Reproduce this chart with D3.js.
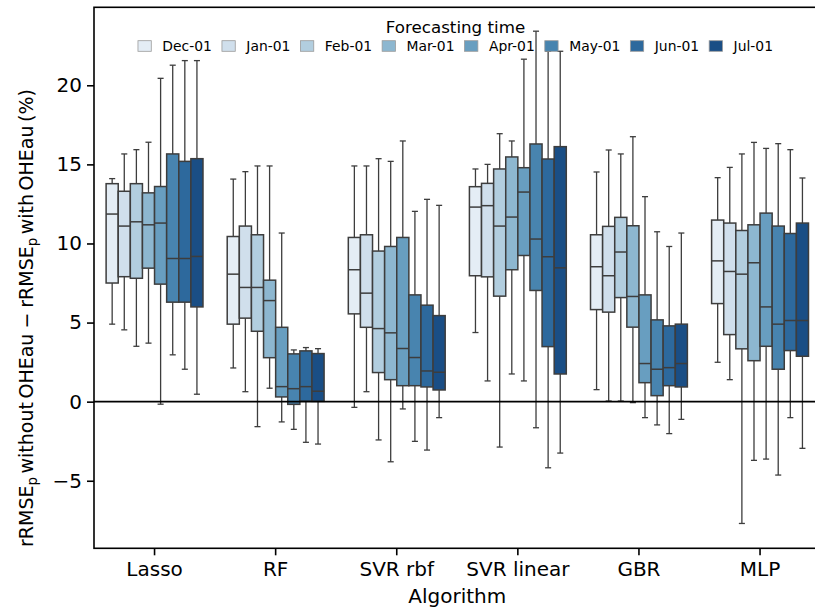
<!DOCTYPE html>
<html>
  <head>
    <meta charset="utf-8">
    <script src="https://d3js.org/d3.v7.min.js"></script>
    <style>
      body { margin: 0; background: #fff; }
      text { font-family: "DejaVu Sans", sans-serif; }
    </style>
  </head>
  <body>
    <script>
      // categories and forecasting times
      let algorithms = ["Lasso", "RF", "SVR rbf", "SVR linear", "GBR", "MLP"];
      let times = ["Dec-01", "Jan-01", "Feb-01", "Mar-01", "Apr-01", "May-01", "Jun-01", "Jul-01"];
      let yTicks = [-5, 0, 5, 10, 15, 20];

      // box statistics, one row per algorithm, one value per forecasting time
      let whiskerLow = [
        [4.9, 4.54, 3.5, 3.7, -0.16, 2.96, 2.05, 0.47],
        [2.13, 0.63, -1.58, 0.85, -1.28, -1.75, -2.57, -2.68],
        [-0.36, 0.63, -2.42, -3.8, -0.46, -2.51, -3.06, -1.01],
        [4.37, 1.31, -2.87, 1.75, 1.31, -1.65, -4.18, -3.25],
        [0.76, 0.04, 0.04, -0.06, -1.01, -1.47, -2.02, -1.12],
        [2.49, 1.39, -7.7, -3.71, -3.63, -4.64, -1.01, -2.95]
      ];
      let q1 = [
        [7.5, 7.9, 7.8, 8.44, 7.43, 6.29, 6.29, 5.99],
        [4.9, 5.28, 4.45, 2.78, 0.3, -0.17, 0.03, 0.02],
        [5.55, 4.7, 1.84, 1.39, 1.01, 1.01, 0.93, 0.74],
        [7.96, 7.89, 6.67, 8.34, 9.24, 7.03, 3.48, 1.75],
        [5.82, 5.66, 6.58, 4.71, 1.2, 0.38, 1.01, 0.93],
        [6.2, 4.24, 3.34, 2.59, 3.5, 2.05, 3.23, 2.87]
      ];
      let median = [
        [11.86, 11.1, 11.37, 11.18, 11.29, 9.05, 9.05, 9.18],
        [8.06, 7.22, 7.22, 6.39, 0.95, 0.82, 0.95, 0.66],
        [8.34, 6.86, 4.62, 4.35, 3.36, 2.79, 1.94, 1.86],
        [12.3, 12.39, 11.1, 11.67, 13.25, 10.28, 9.16, 8.46],
        [8.53, 7.96, 9.46, 6.65, 2.41, 2.05, 2.15, 2.41],
        [8.9, 8.23, 8.06, 8.78, 5.99, 4.9, 5.13, 5.13]
      ];
      let q3 = [
        [13.78, 13.3, 13.78, 13.2, 13.6, 15.66, 15.19, 15.36],
        [10.44, 11.1, 10.55, 7.68, 4.7, 3.02, 3.21, 3.04],
        [10.38, 10.55, 9.52, 9.81, 10.38, 6.75, 6.1, 5.44],
        [13.59, 13.8, 14.71, 15.47, 14.79, 16.29, 15.34, 16.12],
        [10.55, 11.08, 11.65, 11.12, 6.75, 5.17, 4.79, 4.9],
        [11.48, 11.29, 10.82, 11.18, 11.92, 11.1, 10.63, 11.29]
      ];
      let whiskerHigh = [
        [14.1, 15.66, 15.93, 16.4, 20.44, 21.27, 21.56, 21.56],
        [14.07, 14.54, 14.9, 14.9, 10.66, 3.27, 3.42, 3.35],
        [14.9, 14.9, 15.36, 15.19, 16.48, 12.03, 12.79, 12.41],
        [14.71, 15.0, 16.94, 16.48, 21.65, 23.42, 22.15, 22.15],
        [14.52, 15.91, 15.66, 16.75, 12.96, 10.74, 9.81, 10.66],
        [14.16, 14.81, 15.66, 16.39, 16.01, 16.31, 15.93, 14.14]
      ];

      let width = 815, height = 610;
      let plotLeft = 94, plotRight = 820.6, plotTop = 7.3, plotBottom = 548.3;

      // matplotlib "Blues" samples, desaturated like seaborn does for boxes
      let blues = ["#e1edf8", "#cbdff1", "#abd0e6", "#82badb", "#59a2cf", "#3787c0", "#1b6aaf", "#084d97"];
      let colors = blues.map(function(c) {
        let h = d3.hsl(c); h.s = h.s * 0.75; return h.formatHex();
      });
      let edge = "#3d3d3d";

      let svg = d3.select("body").append("svg")
        .attr("width", width).attr("height", height);

      let x = d3.scaleBand().domain(algorithms).range([plotLeft, plotRight]).padding(0);
      let bw = x.bandwidth();
      let xHue = d3.scaleBand().domain(times).range([-0.4 * bw, 0.4 * bw]).padding(0);
      let y = d3.scaleLinear().domain([-9.27, 24.93]).range([plotBottom, plotTop]);

      // boxes
      let boxW = xHue.bandwidth();
      algorithms.forEach(function(alg, a) {
        let g = svg.append("g").attr("transform", "translate(" + (x(alg) + bw / 2) + ",0)");
        times.forEach(function(t, i) {
          let cx = xHue(t) + boxW / 2;
          // whiskers
          g.append("line").attr("x1", cx).attr("x2", cx)
            .attr("y1", y(q3[a][i])).attr("y2", y(whiskerHigh[a][i]))
            .attr("stroke", edge).attr("stroke-width", 1.3);
          g.append("line").attr("x1", cx).attr("x2", cx)
            .attr("y1", y(q1[a][i])).attr("y2", y(whiskerLow[a][i]))
            .attr("stroke", edge).attr("stroke-width", 1.3);
          // caps
          [whiskerHigh[a][i], whiskerLow[a][i]].forEach(function(v) {
            g.append("line").attr("x1", cx - boxW / 4).attr("x2", cx + boxW / 4)
              .attr("y1", y(v)).attr("y2", y(v))
              .attr("stroke", edge).attr("stroke-width", 1.3);
          });
          g.append("rect")
            .attr("x", xHue(t)).attr("width", boxW)
            .attr("y", y(q3[a][i])).attr("height", y(q1[a][i]) - y(q3[a][i]))
            .attr("fill", colors[i]).attr("stroke", edge).attr("stroke-width", 1.5);
          g.append("line").attr("x1", xHue(t)).attr("x2", xHue(t) + boxW)
            .attr("y1", y(median[a][i])).attr("y2", y(median[a][i]))
            .attr("stroke", edge).attr("stroke-width", 1.5);
        });
      });

      // zero line
      svg.append("line").attr("x1", plotLeft).attr("x2", plotRight)
        .attr("y1", y(0)).attr("y2", y(0))
        .attr("stroke", "#000").attr("stroke-width", 1.8);

      // axes
      let yAxis = svg.append("g").attr("transform", "translate(" + plotLeft + ",0)")
        .call(d3.axisLeft(y).tickValues(yTicks).tickSize(7).tickPadding(5));
      let xAxis = svg.append("g").attr("transform", "translate(0," + plotBottom + ")")
        .call(d3.axisBottom(x).tickSize(7).tickPadding(7));
      [yAxis, xAxis].forEach(function(ax) {
        ax.select(".domain").remove();
        ax.selectAll(".tick line").attr("stroke", "#000").attr("stroke-width", 1.6);
        ax.selectAll(".tick text").attr("font-size", 20).attr("fill", "#000")
          .style("font-family", "DejaVu Sans");
      });

      svg.append("rect").attr("x", plotLeft).attr("y", plotTop)
        .attr("width", plotRight - plotLeft).attr("height", plotBottom - plotTop)
        .attr("fill", "none").attr("stroke", "#000").attr("stroke-width", 1.6);

      // axis labels
      svg.append("text").attr("x", (plotLeft + plotRight) / 2).attr("y", 603)
        .attr("text-anchor", "middle").attr("font-size", 20).text("Algorithm");

      let yl = svg.append("text")
        .attr("transform", "translate(33,318) rotate(-90)")
        .attr("text-anchor", "middle").attr("font-size", 19).attr("word-spacing", -2.5);
      yl.append("tspan").text("rRMSE");
      yl.append("tspan").attr("font-size", 13.3).attr("dy", 4).text("p");
      yl.append("tspan").attr("dy", -4).text(" without OHEau");
      yl.append("tspan").attr("dx", 5).text("\u2212");
      yl.append("tspan").attr("dx", 5).text("rRMSE");
      yl.append("tspan").attr("font-size", 13.3).attr("dy", 4).text("p");
      yl.append("tspan").attr("dy", -4).text(" with OHEau (%)");

      // legend
      let legend = svg.append("g");
      legend.append("text").attr("x", 455.5).attr("y", 33)
        .attr("text-anchor", "middle").attr("font-size", 16.7).text("Forecasting time");
      let items = legend.append("g");
      let lx = 0;
      times.forEach(function(t, i) {
        items.append("rect").attr("x", lx).attr("y", 40.7)
          .attr("width", 13.3).attr("height", 10.6)
          .attr("fill", colors[i]).attr("stroke", "#9a9a9a").attr("stroke-width", 0.8);
        let txt = items.append("text").attr("x", lx + 24.4).attr("y", 51.3)
          .attr("font-size", 13.9).text(t);
        lx += 24.4 + txt.node().getComputedTextLength() + (i < times.length - 1 ? 10 : 0);
      });
      items.attr("transform", "translate(" + (455.5 - lx / 2) + ",0)");
    </script>
  </body>
</html>
